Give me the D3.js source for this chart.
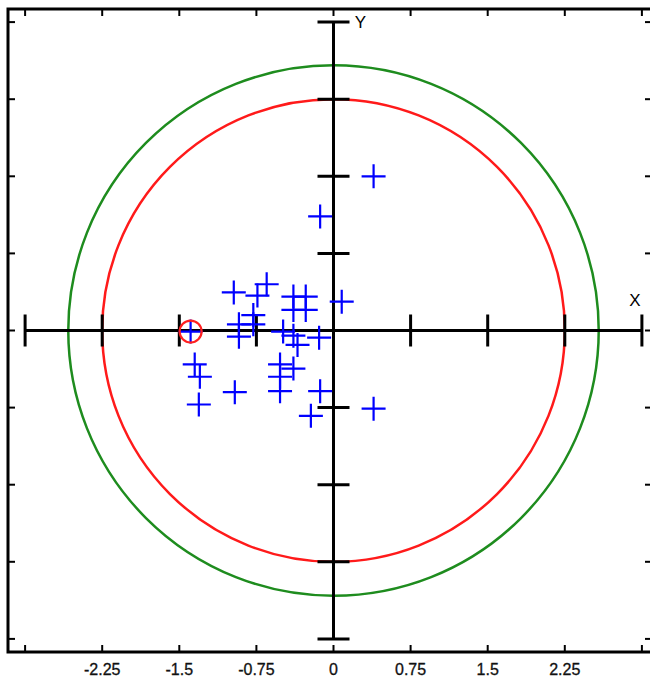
<!DOCTYPE html>
<html>
<head>
<meta charset="utf-8">
<script src="https://cdn.jsdelivr.net/npm/d3@7"></script>
<style>
  html, body { margin: 0; padding: 0; background: #fff; }
  #chart { width: 650px; height: 684px; }
  text { font-family: "Liberation Sans", Arial, sans-serif; }
</style>
</head>
<body>
<div id="chart"></div>
<script>
/** Data */
const pointX = [0.39, -0.13, 0.08, -0.65, -0.74, -0.97, -0.39, -0.27, -0.39, -0.27,
  -0.78, -0.78, -0.92, -0.92, -1.39, -0.49, -0.39, -0.35, -0.14, -1.35,
  -1.30, -1.31, -0.96, -0.52, -0.52, -0.52, -0.39, -0.13, -0.22, 0.39];
const pointY = [1.50, 1.11, 0.28, 0.45, 0.34, 0.37, 0.33, 0.33, 0.20, 0.20,
  0.15, 0.06, 0.06, -0.06, -0.01, -0.01, -0.05, -0.14, -0.07, -0.33,
  -0.45, -0.72, -0.60, -0.33, -0.45, -0.59, -0.37, -0.59, -0.83, -0.76];
const highlight = [-1.39, -0.01];
const circleRadii = [2.58, 2.25];
const circleColors = ["#1e8c1e", "#ff1a1a"];
const tickValues = [-3, -2.25, -1.5, -0.75, 0, 0.75, 1.5, 2.25, 3];
const tickLabels = ["", "-2.25", "-1.5", "-0.75", "0", "0.75", "1.5", "2.25", ""];

/** Graph configs */
const width = 650;
const height = 684;
const frame = { left: 8, top: 9, right: 652, bottom: 652 };

const x = d3.scaleLinear().domain([-3, 3]).range([25.1, 641.9]);
const y = d3.scaleLinear().domain([-3, 3]).range([638.9, 22.1]);
const k = x(1) - x(0);

const svg = d3.select("#chart").append("svg")
  .attr("width", width)
  .attr("height", height);

/** Frame with inward ticks */
svg.append("rect")
  .attr("x", frame.left).attr("y", frame.top)
  .attr("width", frame.right - frame.left)
  .attr("height", frame.bottom - frame.top)
  .attr("fill", "none").attr("stroke", "#000").attr("stroke-width", 3);

const frameTicks = svg.append("g").attr("stroke", "#000").attr("stroke-width", 2);
tickValues.forEach((v) => {
  frameTicks.append("line").attr("x1", x(v)).attr("x2", x(v))
    .attr("y1", frame.top).attr("y2", frame.top + 7);
  frameTicks.append("line").attr("x1", x(v)).attr("x2", x(v))
    .attr("y1", frame.bottom).attr("y2", frame.bottom - 7);
  frameTicks.append("line").attr("y1", y(v)).attr("y2", y(v))
    .attr("x1", frame.left).attr("x2", frame.left + 7);
  frameTicks.append("line").attr("y1", y(v)).attr("y2", y(v))
    .attr("x1", frame.right).attr("x2", frame.right - 7);
});

/** Bottom tick labels */
svg.append("g")
  .selectAll("text")
  .data(tickValues)
  .join("text")
  .attr("x", (d) => x(d))
  .attr("y", 675)
  .attr("text-anchor", "middle")
  .attr("font-size", 16)
  .attr("fill", "#111")
  .attr("stroke", "#111")
  .attr("stroke-width", 0.3)
  .text((d, i) => tickLabels[i]);

/** Circles */
svg.append("g")
  .selectAll("circle")
  .data(circleRadii)
  .join("circle")
  .attr("cx", x(0)).attr("cy", y(0))
  .attr("r", (d) => d * k)
  .attr("fill", "none")
  .attr("stroke", (_, i) => circleColors[i])
  .attr("stroke-width", 2.5);

/** Cross axes */
const axes = svg.append("g").attr("stroke", "#000").attr("stroke-width", 3);
axes.append("line").attr("x1", x(-3)).attr("x2", x(3)).attr("y1", y(0)).attr("y2", y(0));
axes.append("line").attr("x1", x(0)).attr("x2", x(0)).attr("y1", y(-3)).attr("y2", y(3));
tickValues.filter((v) => v !== 0).forEach((v) => {
  axes.append("line").attr("x1", x(v)).attr("x2", x(v))
    .attr("y1", y(0) - 16).attr("y2", y(0) + 16);
  axes.append("line").attr("y1", y(v)).attr("y2", y(v))
    .attr("x1", x(0) - 16).attr("x2", x(0) + 16);
});

svg.append("text").attr("x", x(3) - 7).attr("y", y(0) - 25)
  .attr("text-anchor", "middle").attr("font-size", 17).text("X");
svg.append("text").attr("x", x(0) + 27).attr("y", y(3) + 6)
  .attr("text-anchor", "middle").attr("font-size", 17).text("Y");

/** Points */
svg.append("g")
  .selectAll("path")
  .data(pointX.map((v, i) => [v, pointY[i]]))
  .join("path")
  .attr("d", "M-12,0H12M0,-12V12")
  .attr("transform", (d) => `translate(${x(d[0])},${y(d[1])})`)
  .attr("stroke", "#0000ff")
  .attr("stroke-width", 2.2)
  .attr("fill", "none");

svg.append("circle")
  .attr("cx", x(highlight[0])).attr("cy", y(highlight[1]))
  .attr("r", 11)
  .attr("fill", "none")
  .attr("stroke", "#ff2020")
  .attr("stroke-width", 2.2);
</script>
</body>
</html>
